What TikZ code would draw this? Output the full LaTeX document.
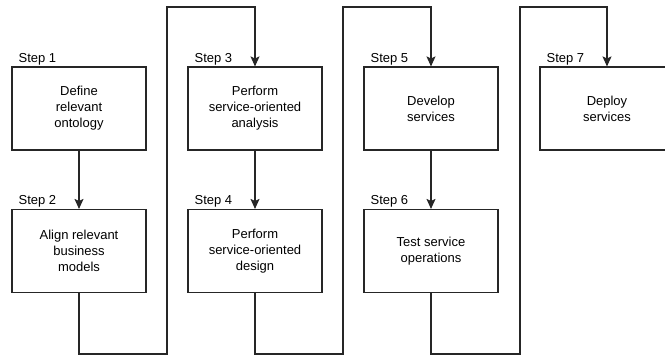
\documentclass[tikz,border=0pt]{standalone}
\usepackage{fontspec}
\setmainfont{Liberation Sans}
\usepackage{tikz}
\usetikzlibrary{arrows.meta}

\begin{document}
\begin{tikzpicture}[x=1pt, y=1pt,
	box/.style={draw=black!85, line width=1.1pt, minimum width=134pt, minimum height=83pt,
		inner sep=0pt, align=center, font=\fontsize{13}{16}\selectfont},
	steplabel/.style={anchor=base west, inner sep=0pt, font=\fontsize{13}{16}\selectfont},
	flow/.style={draw=black!85, line width=1.1pt, -{Stealth[length=10pt, width=9pt, inset=2pt]}}]
		\clip (0,0) rectangle (665,356);
		
		% Boxes, two rows
		\node[box] (s1) at ( 79,247.5) {Define\\relevant\\ontology};
		\node[box] (s2) at ( 79,105)   {Align relevant\\business\\models};
		\node[box] (s3) at (255,247.5) {Perform\\service-oriented\\analysis};
		\node[box] (s4) at (255,105)   {Perform\\service-oriented\\design};
		\node[box] (s5) at (431,247.5) {Develop\\services};
		\node[box] (s6) at (431,105)   {Test service\\operations};
		\node[box] (s7) at (607,247.5) {Deploy\\services};
		
		% Step labels above the boxes
		\node[steplabel] (l1) at ([xshift=7pt, yshift=4pt]s1.north west) {Step 1};
		\node[steplabel] (l2) at ([xshift=7pt, yshift=4pt]s2.north west) {Step 2};
		\node[steplabel] (l3) at ([xshift=7pt, yshift=4pt]s3.north west) {Step 3};
		\node[steplabel] (l4) at ([xshift=7pt, yshift=4pt]s4.north west) {Step 4};
		\node[steplabel] (l5) at ([xshift=7pt, yshift=4pt]s5.north west) {Step 5};
		\node[steplabel] (l6) at ([xshift=7pt, yshift=4pt]s6.north west) {Step 6};
		\node[steplabel] (l7) at ([xshift=7pt, yshift=4pt]s7.north west) {Step 7};
		
		\coordinate (bot) at (0,2);
		\coordinate (g1)  at (167,349);
		\coordinate (g2)  at (343,349);
		\coordinate (g3)  at (520,349);
		
		% Down arrows inside a column
		\draw[flow] (s1) -- (s2);
		\draw[flow] (s3) -- (s4);
		\draw[flow] (s5) -- (s6);
		
		% Loops from the bottom of one column to the top of the next
		\draw[flow] (s2.south) -- (s2.south |- bot) -| (g1) -| (s3.north);
		\draw[flow] (s4.south) -- (s4.south |- bot) -| (g2) -| (s5.north);
		\draw[flow] (s6.south) -- (s6.south |- bot) -| (g3) -| (s7.north);
		
\end{tikzpicture}
\end{document}
